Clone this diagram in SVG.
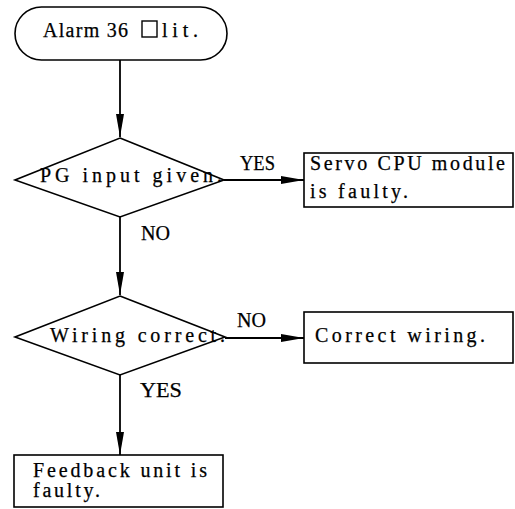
<svg xmlns="http://www.w3.org/2000/svg" width="515" height="509" viewBox="0 0 515 509">
  <style>
    .shape { fill: #fff; stroke: #000; stroke-width: 1.6; }
    .wire { fill: none; stroke: #000; stroke-width: 1.8; }
    text { font-family: "Liberation Serif", "Times New Roman", serif; font-size: 20px; fill: #000; stroke: #000; stroke-width: 0.25; }
  </style>
  <defs>
    <marker id="arrow" markerUnits="userSpaceOnUse" markerWidth="24" markerHeight="10" refX="23" refY="4.5" orient="auto">
      <path d="M0,0.5 L23,4.5 L0,8.5 Z" fill="#000"/>
    </marker>
  </defs>

  <!-- connectors -->
  <g id="connectors">
    <line class="wire" x1="120" y1="60" x2="120" y2="137" marker-end="url(#arrow)"/>
    <line class="wire" x1="224" y1="180" x2="304" y2="180" marker-end="url(#arrow)"/>
    <line class="wire" x1="120" y1="217" x2="120" y2="295" marker-end="url(#arrow)"/>
    <line class="wire" x1="225" y1="338" x2="304" y2="338" marker-end="url(#arrow)"/>
    <line class="wire" x1="120" y1="375" x2="120" y2="455" marker-end="url(#arrow)"/>
    <text x="240" y="170" textLength="35" lengthAdjust="spacingAndGlyphs">YES</text>
    <text x="141" y="240" textLength="29" lengthAdjust="spacingAndGlyphs">NO</text>
    <text x="237" y="327" textLength="29" lengthAdjust="spacingAndGlyphs">NO</text>
    <text x="140" y="397" textLength="42" lengthAdjust="spacingAndGlyphs">YES</text>
  </g>

  <!-- start terminal -->
  <g id="start">
    <rect class="shape" x="15" y="7" width="212" height="53" rx="26.5" ry="26.5"/>
    <text x="43" y="37" textLength="85" lengthAdjust="spacing">Alarm 36</text>
    <rect x="142" y="21" width="15" height="16" fill="none" stroke="#000" stroke-width="1.4"/>
    <text x="162" y="37" textLength="36" lengthAdjust="spacing">lit.</text>
  </g>

  <!-- decision: PG input -->
  <g id="pg-input">
    <polygon class="shape" points="120,138 224,180 120,217 15,180"/>
    <text x="40" y="182" textLength="182" lengthAdjust="spacing">PG input given.</text>
  </g>

  <!-- result: servo CPU module -->
  <g id="servo-cpu">
    <rect class="shape" x="304" y="153" width="209" height="54"/>
    <text x="310" y="170" textLength="195" lengthAdjust="spacing">Servo CPU module</text>
    <text x="310" y="198" textLength="98" lengthAdjust="spacing">is faulty.</text>
  </g>

  <!-- decision: wiring -->
  <g id="wiring">
    <polygon class="shape" points="120,296 225,337 120,375 15,337"/>
    <text x="50" y="342" textLength="175" lengthAdjust="spacing">Wiring correct.</text>
  </g>

  <!-- action: correct wiring -->
  <g id="correct-wiring">
    <rect class="shape" x="304" y="312" width="209" height="51"/>
    <text x="315" y="342" textLength="170" lengthAdjust="spacing">Correct wiring.</text>
  </g>

  <!-- result: feedback unit -->
  <g id="feedback-unit">
    <rect class="shape" x="14" y="455" width="209" height="52"/>
    <text x="33" y="477" textLength="174" lengthAdjust="spacing">Feedback unit is</text>
    <text x="33" y="497" textLength="67" lengthAdjust="spacing">faulty.</text>
  </g>
</svg>
